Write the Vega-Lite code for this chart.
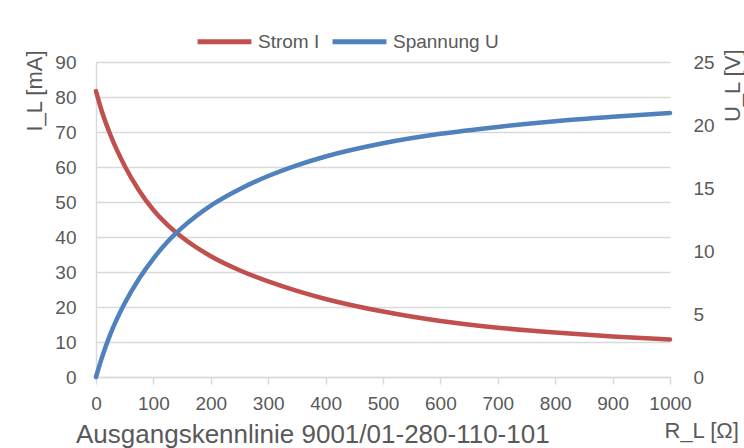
{
  "$schema": "https://vega.github.io/schema/vega-lite/v6.json",
  "width": 574,
  "height": 315,
  "autosize": {"type": "none"},
  "padding": {"left": 96, "top": 62, "right": 74, "bottom": 71},
  "background": "white",
  "config": {
    "font": "Liberation Sans",
    "view": {"stroke": null},
    "axis": {
      "labelColor": "#595959",
      "titleColor": "#595959",
      "labelFontSize": 19,
      "titleFontSize": 22,
      "titleFontWeight": "normal",
      "gridColor": "#d9d9d9",
      "gridWidth": 1.5,
      "domainColor": "#d9d9d9",
      "domainWidth": 1.5,
      "tickColor": "#d9d9d9",
      "tickWidth": 1.5
    }
  },
  "title": {
    "text": "Ausgangskennlinie 9001/01-280-110-101",
    "orient": "bottom",
    "anchor": "start",
    "fontSize": 26,
    "fontWeight": "normal",
    "color": "#595959",
    "offset": -19,
    "dx": 53
  },
  "data": {
    "values": [
      {"R": 0, "I": 81.7, "U": 0},
      {"R": 10, "I": 76.0, "U": 1.5},
      {"R": 25, "I": 69.2, "U": 3.4},
      {"R": 50, "I": 60.3, "U": 5.85},
      {"R": 75, "I": 53.3, "U": 7.8},
      {"R": 100, "I": 47.7, "U": 9.4},
      {"R": 125, "I": 43.4, "U": 10.75},
      {"R": 150, "I": 39.9, "U": 11.85},
      {"R": 200, "I": 34.5, "U": 13.6},
      {"R": 250, "I": 30.5, "U": 14.9},
      {"R": 300, "I": 27.3, "U": 15.95},
      {"R": 350, "I": 24.6, "U": 16.8},
      {"R": 400, "I": 22.3, "U": 17.5},
      {"R": 500, "I": 18.7, "U": 18.55},
      {"R": 600, "I": 16.0, "U": 19.3},
      {"R": 700, "I": 14.1, "U": 19.85},
      {"R": 800, "I": 12.7, "U": 20.3},
      {"R": 900, "I": 11.6, "U": 20.65},
      {"R": 1000, "I": 10.7, "U": 20.95}
    ]
  },
  "layer": [
    {
      "mark": {"type": "line", "strokeWidth": 4.5, "strokeCap": "round", "strokeJoin": "round", "interpolate": "monotone"},
      "encoding": {
        "x": {
          "field": "R", "type": "quantitative",
          "scale": {"domain": [0, 1000], "nice": false},
          "axis": {
            "values": [0, 100, 200, 300, 400, 500, 600, 700, 800, 900, 1000],
            "format": "d",
            "grid": false,
            "tickSize": 7,
            "labelPadding": 10,
            "labelFlush": false,
            "title": "R_L [Ω]",
            "titleX": 568,
            "titleY": 60,
            "titleAlign": "left",
            "titleBaseline": "alphabetic"
          }
        },
        "y": {
          "field": "I", "type": "quantitative",
          "scale": {"domain": [0, 90], "nice": false},
          "axis": {
            "values": [0, 10, 20, 30, 40, 50, 60, 70, 80, 90],
            "grid": true,
            "ticks": false,
            "labelPadding": 20,
            "title": "I_L [mA]",
            "titleAngle": -90,
            "titleX": -62,
            "titleY": -12,
            "titleAlign": "right",
            "titleBaseline": "middle"
          }
        },
        "color": {
          "datum": "Strom I",
          "scale": {"domain": ["Strom I", "Spannung U"], "range": ["#C0504D", "#4F81BD"]},
          "legend": {
            "orient": "none",
            "legendX": 99,
            "legendY": -50,
            "direction": "horizontal",
            "title": null,
            "symbolType": "stroke",
            "symbolSize": 2900,
            "symbolStrokeWidth": 5,
            "labelFontSize": 19,
            "labelColor": "#595959",
            "labelOffset": 4,
            "columnPadding": 2
          }
        }
      }
    },
    {
      "mark": {"type": "line", "strokeWidth": 4.5, "strokeCap": "round", "strokeJoin": "round", "interpolate": "monotone"},
      "encoding": {
        "x": {"field": "R", "type": "quantitative"},
        "y": {
          "field": "U", "type": "quantitative",
          "scale": {"domain": [0, 25], "nice": false},
          "axis": {
            "orient": "right",
            "values": [0, 5, 10, 15, 20, 25],
            "grid": false,
            "ticks": false,
            "domain": false,
            "labelPadding": 23,
            "title": "U_L [V]",
            "titleAngle": -90,
            "titleX": 62,
            "titleY": -13,
            "titleAlign": "right",
            "titleBaseline": "middle"
          }
        },
        "color": {"datum": "Spannung U"}
      }
    }
  ],
  "resolve": {"scale": {"y": "independent"}}
}
